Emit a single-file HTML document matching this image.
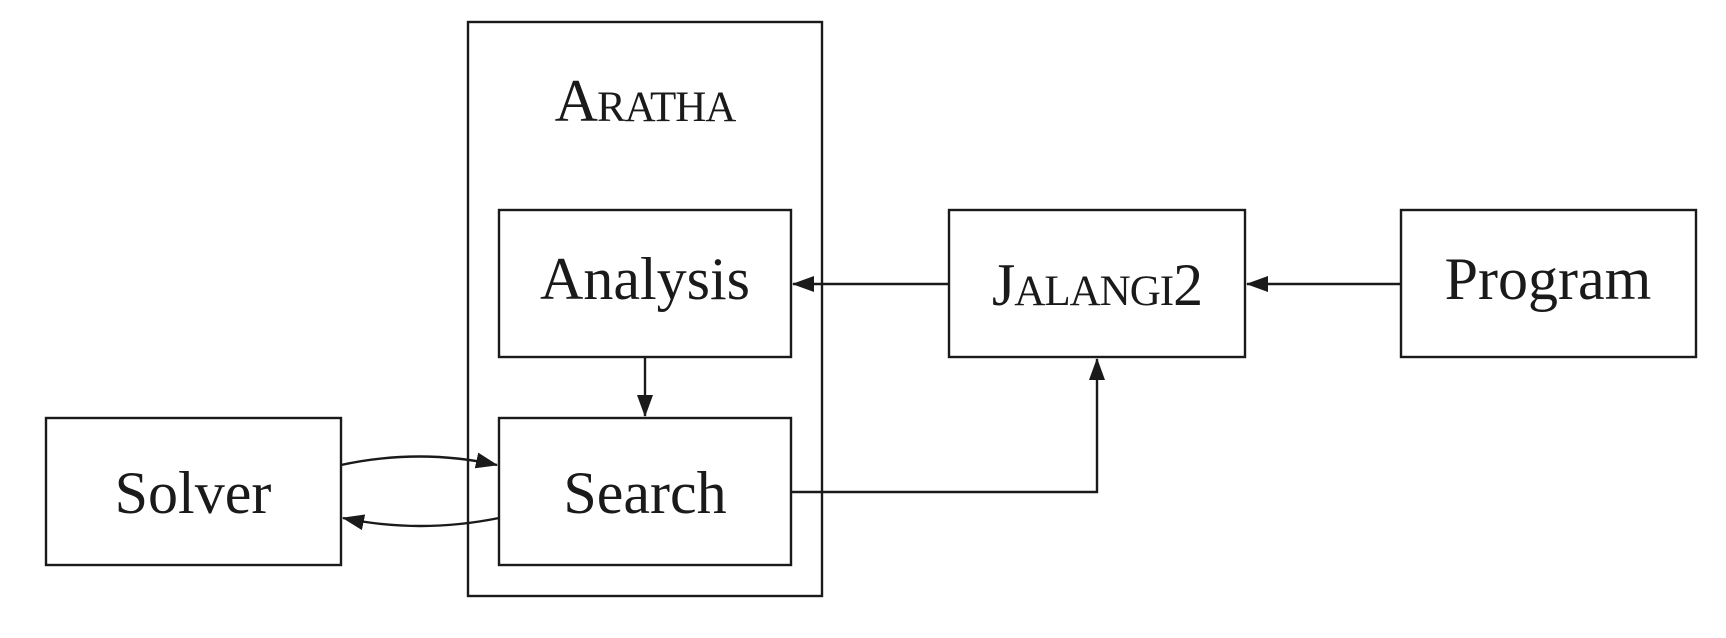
<!DOCTYPE html>
<html><head><meta charset="utf-8"><style>
html,body{margin:0;padding:0;background:#fff;}
svg{display:block;}
text{font-family:"Liberation Serif",serif;fill:#1a1a1a;}
</style></head><body>
<svg width="1726" height="638" viewBox="0 0 1726 638" xmlns="http://www.w3.org/2000/svg">
<defs>
<marker id="ah" markerWidth="22" markerHeight="16" refX="21" refY="8" orient="auto" markerUnits="userSpaceOnUse">
<path d="M0,0 L22,8 L0,16 Z" fill="#1a1a1a"/>
</marker>
</defs>
<g fill="none" stroke="#1a1a1a" stroke-width="2.4">
<rect x="468" y="22" width="354" height="574"/>
<rect x="499" y="210" width="292" height="147"/>
<rect x="499" y="418" width="292" height="147"/>
<rect x="46" y="418" width="295" height="147"/>
<rect x="949" y="210" width="296" height="147"/>
<rect x="1401" y="210" width="295" height="147"/>
<line x1="949" y1="284" x2="793" y2="284" marker-end="url(#ah)"/>
<line x1="1401" y1="284" x2="1247" y2="284" marker-end="url(#ah)"/>
<line x1="645" y1="357" x2="645" y2="416" marker-end="url(#ah)"/>
<polyline points="791,492 1097,492 1097,359" marker-end="url(#ah)"/>
<path d="M341,465 Q420,448 497,465" marker-end="url(#ah)"/>
<path d="M499,518 Q420,534 343,518" marker-end="url(#ah)"/>
</g>
<text x="645" y="121" text-anchor="middle" font-size="60" letter-spacing="-1">A<tspan font-size="43">RATHA</tspan></text>
<text x="645" y="299" text-anchor="middle" font-size="60">Analysis</text>
<text x="645" y="513" text-anchor="middle" font-size="60">Search</text>
<text x="193" y="513" text-anchor="middle" font-size="60">Solver</text>
<text x="1097" y="305" text-anchor="middle" font-size="60" letter-spacing="-1">J<tspan font-size="43">ALANGI</tspan>2</text>
<text x="1548" y="299" text-anchor="middle" font-size="60">Program</text>
</svg>
</body></html>
